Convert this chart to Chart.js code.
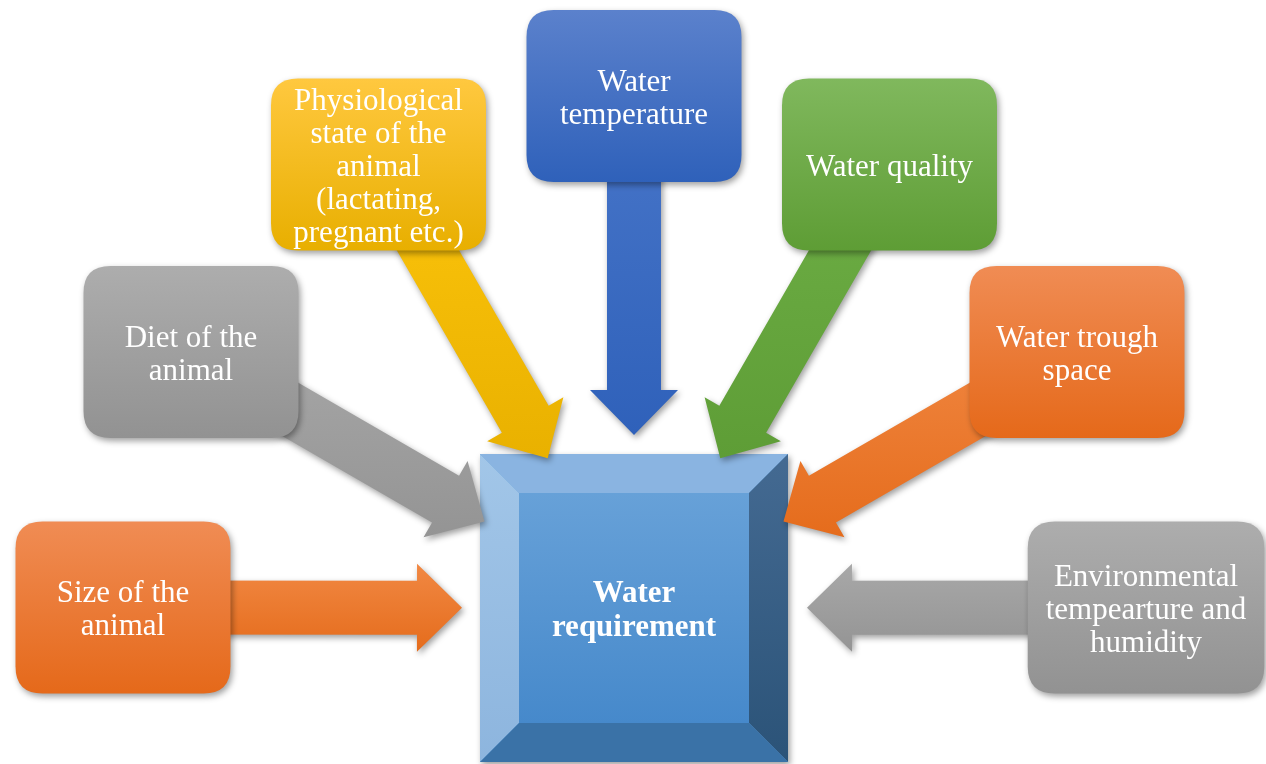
<!DOCTYPE html>
<html>
<head>
<meta charset="utf-8">
<title>Water requirement</title>
<script src="https://cdn.jsdelivr.net/npm/chart.js@4"></script>
<style>
    html, body { margin: 0; padding: 0; background: #ffffff; }
    #diagram { display: block; }
</style>
</head>
<body>
<canvas id="diagram" width="1266" height="764"></canvas>
<script>
// Factors feeding into the water requirement
const factorLabels = [
    ['Size of the', 'animal'],
    ['Diet of the', 'animal'],
    ['Physiological', 'state of the', 'animal', '(lactating,', 'pregnant etc.)'],
    ['Water', 'temperature'],
    ['Water quality'],
    ['Water trough', 'space'],
    ['Environmental', 'tempearture and', 'humidity']
];
const factorX = [123, 191, 378.5, 634, 889.5, 1077, 1146];
const factorY = [607.5, 352, 164.5, 96, 164.5, 352, 607.5];
const factorColor = ['orange', 'gray', 'yellow', 'blue', 'green', 'orange', 'gray'];

const hubLabel = ['Water', 'requirement'];
const hubX = [634];
const hubY = [608];

// Colour palette (box top, box bottom, arrow top, arrow bottom)
const palette = {
    orange: { top: '#f08c54', bottom: '#e5691a', aTop: '#f18843', aBottom: '#e56c1c' },
    gray:   { top: '#adadad', bottom: '#929292', aTop: '#a8a8a8', aBottom: '#949494' },
    yellow: { top: '#ffc83f', bottom: '#e8af00', aTop: '#fdc50c', aBottom: '#e9b100' },
    blue:   { top: '#5b81cc', bottom: '#2f61ba', aTop: '#4876c9', aBottom: '#2f61ba' },
    green:  { top: '#80b85d', bottom: '#5e9d35', aTop: '#6eaf46', aBottom: '#5e9d36' }
};

const BOX_W = 215, BOX_H = 172, BOX_R = 27;
const ARROW_LEN = 339, SHAFT_HALF = 27, HEAD_HALF = 44, HEAD_LEN = 45;
const HUB_SIZE = 308, BEVEL = 39;
const FONT = '"Liberation Serif", "Times New Roman", serif';

function setShadow(ctx) {
    ctx.shadowColor = 'rgba(0,0,0,0.38)';
    ctx.shadowBlur = 6;
    ctx.shadowOffsetX = 2;
    ctx.shadowOffsetY = 3;
}

function roundRect(ctx, x, y, w, h, r) {
    ctx.beginPath();
    ctx.moveTo(x + r, y);
    ctx.lineTo(x + w - r, y);
    ctx.quadraticCurveTo(x + w, y, x + w, y + r);
    ctx.lineTo(x + w, y + h - r);
    ctx.quadraticCurveTo(x + w, y + h, x + w - r, y + h);
    ctx.lineTo(x + r, y + h);
    ctx.quadraticCurveTo(x, y + h, x, y + h - r);
    ctx.lineTo(x, y + r);
    ctx.quadraticCurveTo(x, y, x + r, y);
    ctx.closePath();
}

function drawArrow(ctx, sx, sy, tx, ty, col) {
    const dx = tx - sx, dy = ty - sy;
    const d = Math.hypot(dx, dy);
    const ux = dx / d, uy = dy / d;
    const nx = -uy, ny = ux;
    const L = ARROW_LEN, b = L - HEAD_LEN;
    const pts = [
        [sx + nx * SHAFT_HALF, sy + ny * SHAFT_HALF],
        [sx + ux * b + nx * SHAFT_HALF, sy + uy * b + ny * SHAFT_HALF],
        [sx + ux * b + nx * HEAD_HALF, sy + uy * b + ny * HEAD_HALF],
        [sx + ux * L, sy + uy * L],
        [sx + ux * b - nx * HEAD_HALF, sy + uy * b - ny * HEAD_HALF],
        [sx + ux * b - nx * SHAFT_HALF, sy + uy * b - ny * SHAFT_HALF],
        [sx - nx * SHAFT_HALF, sy - ny * SHAFT_HALF]
    ];
    const ys = pts.map(p => p[1]);
    const g = ctx.createLinearGradient(0, Math.min(...ys), 0, Math.max(...ys));
    g.addColorStop(0, col.aTop);
    g.addColorStop(1, col.aBottom);
    ctx.save();
    setShadow(ctx);
    ctx.fillStyle = g;
    ctx.beginPath();
    pts.forEach((p, i) => i ? ctx.lineTo(p[0], p[1]) : ctx.moveTo(p[0], p[1]));
    ctx.closePath();
    ctx.fill();
    ctx.restore();
}

function drawLines(ctx, lines, cx, cy, font, lh) {
    ctx.save();
    ctx.font = font;
    ctx.fillStyle = '#ffffff';
    ctx.textAlign = 'center';
    ctx.textBaseline = 'middle';
    const top = cy - (lines.length - 1) * lh / 2 + 3;
    lines.forEach((t, i) => ctx.fillText(t, cx, top + i * lh));
    ctx.restore();
}

function drawBox(ctx, cx, cy, lines, col) {
    ctx.save();
    ctx.font = '31px ' + FONT;
    const textW = Math.max(...lines.map(t => ctx.measureText(t).width));
    const w = Math.max(BOX_W, textW + 36);
    const x = cx - w / 2, y = cy - BOX_H / 2;
    const g = ctx.createLinearGradient(0, y, 0, y + BOX_H);
    g.addColorStop(0, col.top);
    g.addColorStop(1, col.bottom);
    setShadow(ctx);
    ctx.fillStyle = g;
    roundRect(ctx, x, y, w, BOX_H, BOX_R);
    ctx.fill();
    ctx.restore();
    drawLines(ctx, lines, cx, cy, '31px ' + FONT, 33);
}

function drawHub(ctx, cx, cy, lines) {
    const s = HUB_SIZE, h = s / 2;
    const x0 = cx - h, y0 = cy - h, x1 = cx + h, y1 = cy + h;
    const ix0 = x0 + BEVEL, iy0 = y0 + BEVEL, ix1 = x1 - BEVEL, iy1 = y1 - BEVEL;

    ctx.save();
    setShadow(ctx);
    ctx.fillStyle = '#5b9bd5';
    ctx.fillRect(x0, y0, s, s);
    ctx.restore();

    const face = (pts, fill) => {
        ctx.beginPath();
        pts.forEach((p, i) => i ? ctx.lineTo(p[0], p[1]) : ctx.moveTo(p[0], p[1]));
        ctx.closePath();
        ctx.fillStyle = fill;
        ctx.fill();
    };
    // top bevel
    face([[x0, y0], [x1, y0], [ix1, iy0], [ix0, iy0]], '#8ab4e1');
    // left bevel
    let g = ctx.createLinearGradient(0, y0, 0, y1);
    g.addColorStop(0, '#a2c6e8');
    g.addColorStop(1, '#8db5de');
    face([[x0, y0], [ix0, iy0], [ix0, iy1], [x0, y1]], g);
    // right bevel
    g = ctx.createLinearGradient(0, y0, 0, y1);
    g.addColorStop(0, '#446a92');
    g.addColorStop(1, '#2b5378');
    face([[x1, y0], [x1, y1], [ix1, iy1], [ix1, iy0]], g);
    // bottom bevel
    face([[x0, y1], [ix0, iy1], [ix1, iy1], [x1, y1]], '#3a72a7');
    // front face
    g = ctx.createLinearGradient(0, iy0, 0, iy1);
    g.addColorStop(0, '#67a1d8');
    g.addColorStop(1, '#4689cb');
    ctx.fillStyle = g;
    ctx.fillRect(ix0, iy0, ix1 - ix0, iy1 - iy0);

    drawLines(ctx, lines, cx, cy, 'bold 31px ' + FONT, 34);
}

// Plugin that draws the diagram from the dataset points
const diagramPlugin = {
    id: 'diagram',
    afterDatasetsDraw(chart) {
        const ctx = chart.ctx;
        const nodes = chart.getDatasetMeta(0).data;
        const hub = chart.getDatasetMeta(1).data[0];

        drawHub(ctx, hub.x, hub.y, hubLabel);
        nodes.forEach((pt, i) => drawArrow(ctx, pt.x, pt.y, hub.x, hub.y, palette[factorColor[i]]));
        nodes.forEach((pt, i) => drawBox(ctx, pt.x, pt.y, factorLabels[i], palette[factorColor[i]]));
    }
};

new Chart(document.getElementById('diagram'), {
    type: 'scatter',
    data: {
        datasets: [
            {
                label: 'Factors',
                data: factorX.map((x, i) => ({ x: x, y: factorY[i] })),
                pointRadius: 0
            },
            {
                label: 'Water requirement',
                data: hubX.map((x, i) => ({ x: x, y: hubY[i] })),
                pointRadius: 0
            }
        ]
    },
    options: {
        responsive: false,
        animation: false,
        events: [],
        layout: { padding: 0 },
        scales: {
            x: { type: 'linear', min: 0, max: 1266, display: false },
            y: { type: 'linear', min: 0, max: 764, reverse: true, display: false }
        },
        plugins: {
            legend: { display: false },
            tooltip: { enabled: false }
        }
    },
    plugins: [diagramPlugin]
});
</script>
</body>
</html>
